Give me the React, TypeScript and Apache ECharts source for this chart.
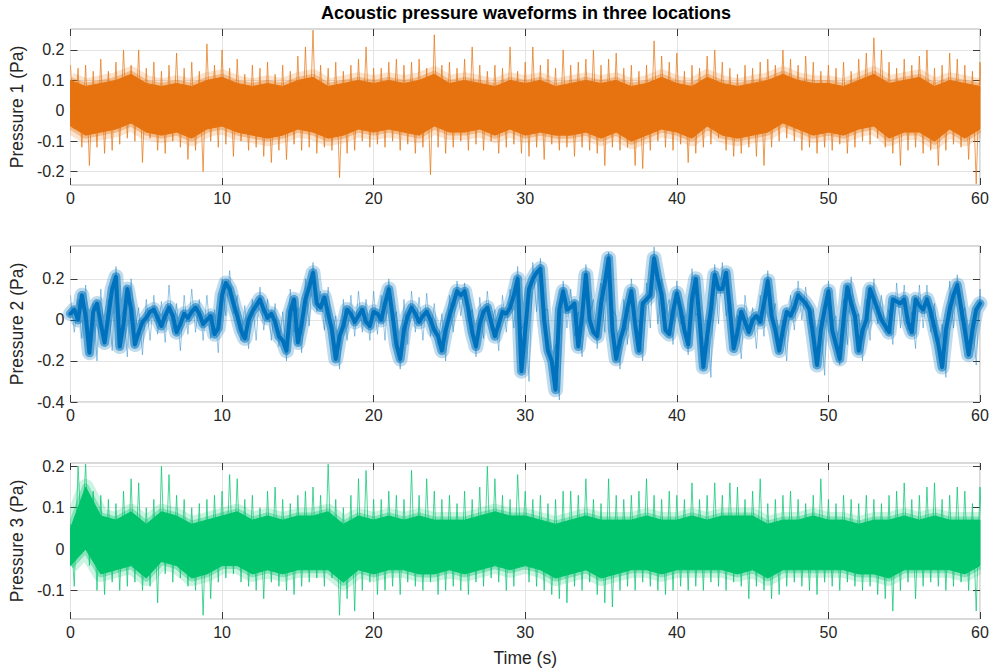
import { useEffect, useRef } from "react";
import * as echarts from "echarts";

const FONT = "'Liberation Sans', Arial, Helvetica, sans-serif";

const TITLE = "Acoustic pressure waveforms in three locations";
const X_NAME = "Time (s)";
const Y_NAMES = ["Pressure 1 (Pa)", "Pressure 2 (Pa)", "Pressure 3 (Pa)"];
const COLORS = ["#E6730F", "#0072BD", "#00C46C"];

// time axis (s)
const X_MIN = 0;
const X_MAX = 60;
const X_STEP = 10;

// pressure axes (Pa): data-tight limits and labelled ticks per panel
const Y_MIN = [-0.244, -0.4, -0.169];
const Y_MAX = [0.269, 0.36, 0.208];
const Y_STEP = [0.1, 0.2, 0.1];
const Y_TICKS = [
  [-0.2, -0.1, 0, 0.1, 0.2],
  [-0.4, -0.2, 0, 0.2],
  [-0.1, 0, 0.1, 0.2],
];

// extreme excursions every 0.5 s (peak at t, trough a quarter-step later)
const PEAK_STEP = 0.5;

const p1Peak = [
  0.15, 0.14, 0.15, 0.13, 0.17, 0.13, 0.16, 0.2, 0.15, 0.2, 0.14, 0.16, 0.13, 0.15, 0.19, 0.14, 0.16, 0.13, 0.22, 0.15, 0.2,
  0.14, 0.17, 0.12, 0.15, 0.14, 0.16, 0.12, 0.15, 0.13, 0.18, 0.21, 0.265, 0.15, 0.14, 0.16, 0.13, 0.15, 0.17, 0.21, 0.14,
  0.14, 0.16, 0.17, 0.15, 0.16, 0.17, 0.14, 0.25, 0.15, 0.16, 0.14, 0.17, 0.21, 0.15, 0.13, 0.15, 0.14, 0.21, 0.13, 0.16,
  0.21, 0.15, 0.17, 0.14, 0.2, 0.15, 0.16, 0.17, 0.2, 0.15, 0.17, 0.19, 0.14, 0.15, 0.13, 0.15, 0.23, 0.18, 0.16, 0.19,
  0.13, 0.15, 0.14, 0.18, 0.2, 0.16, 0.14, 0.12, 0.15, 0.14, 0.16, 0.17, 0.15, 0.2, 0.17, 0.15, 0.18, 0.16, 0.13, 0.15,
  0.14, 0.16, 0.13, 0.17, 0.19, 0.24, 0.2, 0.16, 0.14, 0.17, 0.15, 0.18, 0.2, 0.14, 0.15, 0.19, 0.17, 0.15, 0.13, 0.16,
];
const p1Trough = [
  -0.06, -0.12, -0.18, -0.12, -0.14, -0.13, -0.11, -0.09, -0.1, -0.17, -0.09, -0.13, -0.14, -0.1, -0.12, -0.16, -0.13, -0.2, -0.1, -0.12, -0.11,
  -0.15, -0.1, -0.13, -0.12, -0.15, -0.17, -0.13, -0.16, -0.11, -0.13, -0.12, -0.14, -0.12, -0.13, -0.22, -0.14, -0.13, -0.1, -0.12, -0.11,
  -0.12, -0.1, -0.13, -0.11, -0.14, -0.12, -0.21, -0.12, -0.14, -0.12, -0.1, -0.13, -0.11, -0.13, -0.1, -0.14, -0.12, -0.11, -0.14, -0.15,
  -0.12, -0.16, -0.11, -0.13, -0.12, -0.15, -0.12, -0.13, -0.14, -0.18, -0.12, -0.13, -0.12, -0.18, -0.19, -0.13, -0.1, -0.12, -0.13, -0.11,
  -0.17, -0.14, -0.12, -0.11, -0.09, -0.13, -0.15, -0.14, -0.12, -0.15, -0.18, -0.12, -0.1, -0.09, -0.1, -0.13, -0.12, -0.14, -0.12, -0.13,
  -0.11, -0.14, -0.12, -0.1, -0.11, -0.09, -0.12, -0.14, -0.18, -0.13, -0.12, -0.14, -0.13, -0.18, -0.13, -0.11, -0.12, -0.16, -0.24, -0.1,
];

const p2Peak = [
  0.12, 0.1, 0.17, 0.08, 0.15, 0.1, 0.26, 0.05, 0.2, 0.06, 0.1, 0.12, 0.09, 0.17, 0.08, 0.12, 0.15, 0.1, 0.12, 0.05, 0.2,
  0.24, 0.12, 0.07, 0.1, 0.16, 0.1, 0.08, 0.04, 0.15, 0.06, 0.2, 0.28, 0.14, 0.16, 0.02, 0.1, 0.12, 0.14, 0.1, 0.14,
  0.12, 0.2, 0.04, 0.1, 0.14, 0.11, 0.13, 0.08, 0.03, 0.12, 0.19, 0.18, 0.05, 0.11, 0.14, 0.05, 0.12, 0.15, 0.26, 0.0,
  0.28, 0.3, 0.05, -0.12, 0.19, 0.15, 0.04, 0.27, 0.1, 0.18, 0.33, 0.02, 0.1, 0.2, 0.0, 0.18, 0.355, 0.2, 0.1, 0.19,
  0.02, 0.25, 0.05, 0.0, 0.27, 0.28, 0.1, 0.02, 0.12, 0.06, 0.12, 0.24, 0.08, 0.0, 0.12, 0.19, 0.16, 0.05, 0.0, 0.19,
  0.02, 0.1, 0.21, 0.03, 0.1, 0.2, 0.12, 0.05, 0.18, 0.17, 0.04, 0.17, 0.17, 0.08, -0.02, 0.19, 0.22, 0.06, 0.0, 0.15,
];
const p2Trough = [
  -0.06, -0.09, -0.1, -0.2, -0.1, -0.15, 0.0, -0.18, -0.05, -0.17, -0.1, -0.07, -0.11, -0.06, -0.15, -0.07, -0.06, -0.1, -0.09, -0.16, 0.02,
  0.03, -0.1, -0.14, -0.1, -0.05, -0.1, -0.13, -0.2, -0.06, -0.16, -0.03, 0.04, -0.05, -0.08, -0.24, -0.1, -0.08, -0.06, -0.1, -0.07,
  -0.1, -0.02, -0.24, -0.12, -0.06, -0.1, -0.08, -0.12, -0.2, -0.06, 0.02, -0.01, -0.18, -0.09, -0.05, -0.15, -0.06, -0.04, -0.05, -0.3,
  0.04, 0.05, -0.22, -0.39, -0.04, -0.08, -0.18, 0.02, -0.14, -0.06, 0.05, -0.24, -0.12, -0.02, -0.2, -0.04, -0.02, 0.03, -0.12, -0.02,
  -0.17, 0.02, -0.2, -0.28, -0.02, 0.02, -0.12, -0.19, -0.06, -0.14, -0.08, 0.0, -0.12, -0.2, -0.05, 0.0, -0.02, -0.2, -0.27, -0.02,
  -0.22, -0.12, 0.0, -0.2, -0.1, -0.02, -0.06, -0.12, -0.04, -0.05, -0.14, -0.04, -0.06, -0.13, -0.28, -0.04, 0.0, -0.14, -0.22, -0.05,
];

const p3Peak = [
  0.06, 0.2, 0.205, 0.14, 0.13, 0.12, 0.11, 0.14, 0.17, 0.16, 0.1, 0.12, 0.2, 0.18, 0.13, 0.12, 0.1, 0.11, 0.12, 0.13, 0.14,
  0.18, 0.17, 0.12, 0.13, 0.1, 0.14, 0.15, 0.12, 0.11, 0.13, 0.14, 0.15, 0.13, 0.205, 0.12, 0.1, 0.13, 0.17, 0.19, 0.12,
  0.12, 0.14, 0.13, 0.12, 0.19, 0.13, 0.17, 0.14, 0.12, 0.13, 0.11, 0.14, 0.12, 0.15, 0.2, 0.17, 0.13, 0.12, 0.18, 0.14,
  0.12, 0.13, 0.11, 0.12, 0.14, 0.14, 0.13, 0.17, 0.12, 0.11, 0.17, 0.13, 0.12, 0.13, 0.14, 0.17, 0.13, 0.12, 0.14, 0.13,
  0.12, 0.16, 0.12, 0.13, 0.16, 0.13, 0.16, 0.15, 0.12, 0.14, 0.17, 0.11, 0.12, 0.13, 0.14, 0.12, 0.11, 0.13, 0.17, 0.12,
  0.11, 0.13, 0.12, 0.11, 0.13, 0.12, 0.11, 0.13, 0.14, 0.16, 0.12, 0.13, 0.15, 0.16, 0.12, 0.13, 0.15, 0.14, 0.11, 0.15,
];
const p3Trough = [
  -0.09, 0.02, -0.04, -0.1, -0.11, -0.08, -0.1, -0.09, -0.08, -0.1, -0.09, -0.13, -0.06, -0.08, -0.07, -0.09, -0.1, -0.16, -0.12, -0.08, -0.07,
  -0.06, -0.08, -0.09, -0.1, -0.12, -0.08, -0.09, -0.1, -0.11, -0.09, -0.08, -0.07, -0.09, -0.07, -0.16, -0.12, -0.15, -0.1, -0.08, -0.11,
  -0.1, -0.09, -0.11, -0.08, -0.09, -0.1, -0.08, -0.11, -0.1, -0.09, -0.1, -0.11, -0.08, -0.09, -0.07, -0.08, -0.1, -0.09, -0.03, -0.08,
  -0.09, -0.1, -0.11, -0.12, -0.13, -0.09, -0.1, -0.08, -0.11, -0.13, -0.14, -0.1, -0.09, -0.1, -0.08, -0.09, -0.1, -0.11, -0.1, -0.09,
  -0.1, -0.09, -0.1, -0.08, -0.09, -0.1, -0.08, -0.09, -0.12, -0.09, -0.1, -0.12, -0.11, -0.09, -0.08, -0.09, -0.1, -0.11, -0.08, -0.09,
  -0.1, -0.08, -0.09, -0.1, -0.09, -0.11, -0.12, -0.15, -0.1, -0.08, -0.12, -0.09, -0.08, -0.09, -0.1, -0.09, -0.08, -0.1, -0.15, -0.07,
];

// dense core of the Pressure 1 / Pressure 3 noise band, every 1 s
const CORE_STEP = 1;

const p1CoreHi = [
  0.1, 0.08, 0.09, 0.1, 0.12, 0.09, 0.08, 0.09, 0.08, 0.1, 0.11, 0.09, 0.08, 0.09, 0.08, 0.1, 0.11, 0.08, 0.09, 0.1, 0.09,
  0.1, 0.09, 0.1, 0.12, 0.09, 0.1, 0.09, 0.08, 0.1, 0.09, 0.1, 0.08, 0.09, 0.1, 0.09, 0.1, 0.08, 0.09, 0.11,
  0.09, 0.08, 0.11, 0.09, 0.08, 0.09, 0.1, 0.12, 0.1, 0.09, 0.09, 0.08, 0.1, 0.12, 0.09, 0.1, 0.11, 0.08, 0.1, 0.09, 0.08,
];
const p1CoreLo = [
  -0.05, -0.08, -0.07, -0.06, -0.04, -0.07, -0.08, -0.07, -0.09, -0.06, -0.05, -0.07, -0.08, -0.09, -0.08, -0.06, -0.07, -0.09, -0.08, -0.06, -0.07,
  -0.06, -0.07, -0.08, -0.05, -0.07, -0.07, -0.06, -0.08, -0.06, -0.08, -0.07, -0.08, -0.08, -0.07, -0.09, -0.07, -0.1, -0.08, -0.06,
  -0.07, -0.09, -0.05, -0.08, -0.09, -0.08, -0.07, -0.04, -0.06, -0.08, -0.07, -0.08, -0.06, -0.05, -0.09, -0.07, -0.07, -0.1, -0.06, -0.09, -0.06,
];

const p3CoreHi = [
  0.05, 0.15, 0.08, 0.07, 0.09, 0.06, 0.09, 0.08, 0.06, 0.07, 0.08, 0.09, 0.07, 0.08, 0.07, 0.08, 0.08, 0.09, 0.06, 0.08, 0.07,
  0.08, 0.07, 0.08, 0.07, 0.07, 0.07, 0.08, 0.09, 0.08, 0.08, 0.07, 0.06, 0.07, 0.08, 0.07, 0.07, 0.07, 0.08, 0.07,
  0.07, 0.08, 0.07, 0.08, 0.08, 0.08, 0.06, 0.07, 0.07, 0.08, 0.07, 0.07, 0.06, 0.07, 0.07, 0.08, 0.07, 0.08, 0.07, 0.07, 0.07,
];
const p3CoreLo = [
  -0.04, 0.0, -0.06, -0.05, -0.04, -0.07, -0.03, -0.04, -0.07, -0.06, -0.04, -0.04, -0.06, -0.05, -0.06, -0.05, -0.05, -0.05, -0.08, -0.05, -0.06,
  -0.05, -0.05, -0.06, -0.06, -0.05, -0.06, -0.05, -0.04, -0.05, -0.04, -0.05, -0.07, -0.06, -0.05, -0.07, -0.06, -0.05, -0.05, -0.06,
  -0.05, -0.05, -0.05, -0.05, -0.06, -0.05, -0.07, -0.05, -0.05, -0.05, -0.05, -0.05, -0.06, -0.06, -0.07, -0.05, -0.05, -0.05, -0.05, -0.06, -0.04,
];

// Pressure 2: slow waveform under the noise, every 0.25 s
const WAVE_STEP = 0.25;
const p2Wave = [
  0.03, 0.05, 0.0, 0.12, 0.02, -0.16, 0.04, 0.08, -0.02, -0.11, 0.02, 0.15, 0.21, -0.13, -0.02, 0.15, 0.05, -0.12, -0.06, -0.01,
  0.01, 0.04, 0.05, 0.01, -0.03, 0.02, 0.06, 0.02, -0.06, -0.02, 0.03, 0.01, 0.04, 0.06, 0.03, -0.02, 0.0, 0.02, -0.07, -0.04,
  0.12, 0.18, 0.15, 0.08, 0.02, -0.05, -0.09, 0.0, 0.04, 0.07, 0.1, 0.05, 0.01, 0.03, -0.01, -0.08, -0.1, -0.15, 0.04, 0.1,
  -0.11, -0.02, 0.1, 0.16, 0.23, 0.08, 0.06, 0.11, 0.03, -0.05, -0.19, -0.08, -0.03, 0.05, 0.03, -0.01, 0.02, 0.05, -0.01, -0.03,
  0.04, 0.03, 0.0, 0.08, 0.15, 0.02, -0.12, -0.19, -0.05, 0.02, 0.06, 0.03, -0.01, 0.02, 0.04, 0.0, -0.05, -0.08, -0.15, -0.05,
  0.02, 0.08, 0.14, 0.12, 0.14, 0.05, -0.06, -0.13, -0.02, 0.04, 0.06, -0.01, -0.08, -0.02, 0.04, 0.03, 0.06, 0.12, 0.2, -0.25,
  -0.05, 0.15, 0.2, 0.23, 0.25, 0.0, -0.15, -0.2, -0.34, 0.05, 0.14, 0.05, 0.06, 0.08, -0.13, 0.02, 0.22, 0.0, -0.06, -0.08,
  0.08, 0.18, 0.3, -0.05, -0.19, -0.1, -0.04, 0.06, 0.14, -0.02, -0.15, 0.08, 0.1, 0.12, 0.3, 0.2, 0.12, -0.05, -0.07, 0.04,
  0.13, 0.05, -0.05, -0.12, 0.1, 0.2, 0.0, -0.23, -0.08, 0.05, 0.22, 0.15, 0.15, 0.23, 0.05, -0.14, -0.06, 0.04, -0.01, -0.06,
  0.0, 0.02, -0.01, 0.08, 0.19, 0.02, -0.05, -0.15, -0.05, 0.04, 0.02, 0.06, 0.12, 0.1, 0.08, 0.05, -0.08, -0.22, -0.05, 0.05,
  0.14, -0.05, -0.12, -0.19, 0.0, 0.16, 0.08, 0.02, -0.15, -0.05, 0.0, 0.15, 0.1, 0.05, 0.0, -0.03, -0.06, 0.1, 0.09, 0.08,
  0.1, -0.01, -0.06, 0.1, 0.07, 0.05, 0.1, 0.04, -0.04, -0.12, -0.23, -0.05, 0.05, 0.12, 0.17, 0.06, -0.05, -0.17, -0.05, 0.05,
  0.08,
];

// layout of the three stacked axes
const PLOT_LEFT = 66;
const PLOT_RIGHT = 12;
const PLOT_TOPS = [29, 246, 463];
const PLOT_HEIGHT = 156;

const TICK_COLOR = "#3a3a3a";
const BORDER_COLOR = "#b4b4b4";
const GRID_COLOR = "#e4e4e4";
const LABEL_COLOR = "#262626";

function bandSeries(k: number, step: number, upper: number[], lower: number[], color: string) {
  return {
    type: "custom",
    xAxisIndex: k * 2,
    yAxisIndex: k * 2,
    silent: true,
    clip: true,
    z: 3,
    data: [[0, 0]],
    renderItem: (_params: any, api: any) => {
      const top = upper.map((v, i) => api.coord([i * step, v]));
      const bottom = lower.map((v, i) => api.coord([i * step, v]));
      const outline = top.concat(bottom.slice().reverse());
      const fringe = (pts: number[][], w: number, o: number) => ({
        type: "polyline",
        shape: { points: pts },
        style: { fill: "none", stroke: color, lineWidth: w, opacity: o, lineCap: "butt", lineJoin: "round" },
      });
      return {
        type: "group",
        children: [
          fringe(top, 16, 0.2),
          fringe(bottom, 16, 0.2),
          fringe(top, 7, 0.35),
          fringe(bottom, 7, 0.35),
          {
            type: "polygon",
            shape: { points: outline },
            style: { fill: color, stroke: color, lineWidth: 1, opacity: 1 },
          },
        ],
      };
    },
  };
}

function needleSeries(k: number, peak: number[], trough: number[], color: string, opacity: number) {
  const data: number[][] = [];
  for (let i = 0; i < peak.length; i++) {
    const t = i * PEAK_STEP;
    data.push([t, peak[i]]);
    data.push([t + PEAK_STEP / 2, trough[i]]);
  }
  return {
    type: "line",
    xAxisIndex: k * 2,
    yAxisIndex: k * 2,
    data,
    symbol: "none",
    silent: true,
    clip: true,
    z: 2,
    lineStyle: { color, width: 1, opacity },
  };
}

function waveSeries(k: number, wave: number[], color: string, width: number, opacity: number, z: number) {
  return {
    type: "line",
    xAxisIndex: k * 2,
    yAxisIndex: k * 2,
    data: wave.map((v, i) => [i * WAVE_STEP, v]),
    symbol: "none",
    silent: true,
    clip: true,
    z,
    lineStyle: { color, width, opacity, join: "round", cap: "round" },
  };
}

function buildOption() {
  const grids: any[] = [];
  const xAxes: any[] = [];
  const yAxes: any[] = [];
  const series: any[] = [];

  for (let k = 0; k < 3; k++) {
    grids.push({
      left: PLOT_LEFT,
      right: PLOT_RIGHT,
      top: PLOT_TOPS[k],
      height: PLOT_HEIGHT,
      show: true,
      borderColor: BORDER_COLOR,
      borderWidth: 1,
      backgroundColor: "#ffffff",
      containLabel: false,
    });

    const xBase = {
      type: "value",
      gridIndex: k,
      min: X_MIN,
      max: X_MAX,
      interval: X_STEP,
      axisLine: { show: false, onZero: false },
      axisTick: { show: true, inside: true, length: 7, lineStyle: { color: TICK_COLOR, width: 1 } },
    };
    xAxes.push({
      ...xBase,
      position: "bottom",
      axisLabel: { show: true, fontSize: 16, color: LABEL_COLOR, fontFamily: FONT, margin: 5 },
      splitLine: { show: true, lineStyle: { color: GRID_COLOR, width: 1 } },
      name: k === 2 ? X_NAME : "",
      nameLocation: "middle",
      nameGap: 30,
      nameTextStyle: { fontSize: 17.5, color: LABEL_COLOR, fontFamily: FONT },
    });
    xAxes.push({
      ...xBase,
      position: "top",
      axisLabel: { show: false },
      splitLine: { show: false },
    });

    const yBase = {
      type: "value",
      gridIndex: k,
      min: Y_MIN[k],
      max: Y_MAX[k],
      splitNumber: 5,
      minInterval: Y_STEP[k],
      maxInterval: Y_STEP[k],
      axisLine: { show: false, onZero: false },
      axisTick: {
        show: true,
        inside: true,
        length: 7,
        customValues: Y_TICKS[k],
        lineStyle: { color: TICK_COLOR, width: 1 },
      },
    };
    yAxes.push({
      ...yBase,
      position: "left",
      axisLabel: {
        show: true,
        fontSize: 16,
        color: LABEL_COLOR,
        fontFamily: FONT,
        margin: 6,
        customValues: Y_TICKS[k],
      },
      splitLine: { show: true, lineStyle: { color: GRID_COLOR, width: 1 } },
      name: Y_NAMES[k],
      nameLocation: "middle",
      nameRotate: 90,
      nameGap: 37,
      nameTextStyle: { fontSize: 17.5, color: LABEL_COLOR, fontFamily: FONT },
    });
    yAxes.push({
      ...yBase,
      position: "right",
      axisLabel: { show: false },
      splitLine: { show: false },
    });
  }

  // Pressure 1
  series.push(needleSeries(0, p1Peak, p1Trough, COLORS[0], 0.7));
  series.push(bandSeries(0, CORE_STEP, p1CoreHi, p1CoreLo, COLORS[0]));
  // Pressure 2
  series.push(needleSeries(1, p2Peak, p2Trough, COLORS[1], 0.4));
  series.push(waveSeries(1, p2Wave, COLORS[1], 15, 0.25, 3));
  series.push(waveSeries(1, p2Wave, COLORS[1], 9, 0.55, 4));
  series.push(waveSeries(1, p2Wave, COLORS[1], 4, 1, 5));
  // Pressure 3
  series.push(needleSeries(2, p3Peak, p3Trough, COLORS[2], 0.7));
  series.push(bandSeries(2, CORE_STEP, p3CoreHi, p3CoreLo, COLORS[2]));

  return {
    animation: false,
    backgroundColor: "#ffffff",
    textStyle: { fontFamily: FONT },
    grid: grids,
    xAxis: xAxes,
    yAxis: yAxes,
    series,
    graphic: [
      {
        type: "text",
        x: 526,
        y: 13,
        style: {
          text: TITLE,
          fontSize: 18,
          fontWeight: "bold",
          fontFamily: FONT,
          fill: "#000000",
          align: "center",
          verticalAlign: "middle",
          textAlign: "center",
          textVerticalAlign: "middle",
        },
      },
    ],
  };
}

export default function App() {
  const ref = useRef<HTMLDivElement>(null);
  useEffect(() => {
    if (!ref.current) return;
    const chart = echarts.init(ref.current, null, { renderer: "svg" });
    chart.setOption(buildOption() as any);
    return () => chart.dispose();
  }, []);
  return (
    <div
      ref={ref}
      style={{ position: "fixed", left: 0, top: 0, width: 992, height: 670, background: "#ffffff" }}
    />
  );
}
